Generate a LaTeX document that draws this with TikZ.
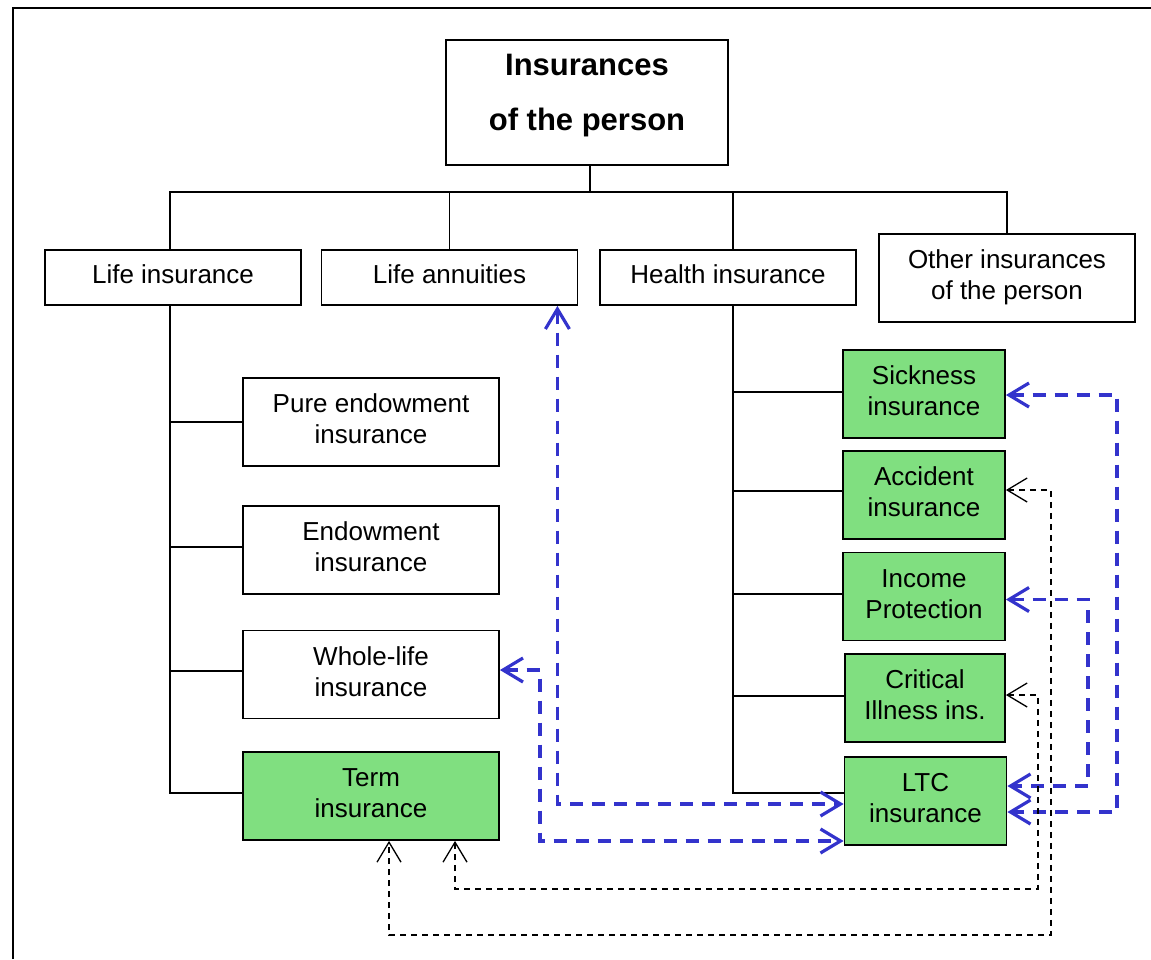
\documentclass[tikz,border=0pt]{standalone}
\usepackage{fontspec}
\setmainfont{Liberation Sans}
\usetikzlibrary{arrows.meta}
\definecolor{boxgreen}{RGB}{128,223,128}
\definecolor{linkblue}{RGB}{51,51,204}
% two lines of box text, each carrying a strut
\newcommand\boxlines[2]{\strut#1\\\strut#2}
% one line of box text, set slightly high
\newcommand\boxline[1]{\raisebox{2pt}{\strut#1}}

\begin{document}
\begin{tikzpicture}[x=1pt,y=-1pt,
  box/.style={draw=black, line width=1.8pt, inner sep=0pt, align=center,
    minimum width=256pt, minimum height=88pt, font=\fontsize{26}{31}\selectfont},
  wide/.style={box, minimum height=55pt},
  narrow/.style={box, minimum width=162pt},
  green/.style={fill=boxgreen},
  headbox/.style={box, minimum width=282pt, minimum height=125pt,
    font=\bfseries\fontsize{31}{55}\selectfont},
  tree/.style={draw=black, line width=1.3pt},
  bluelink/.style={draw=linkblue, line width=3.2pt, dash pattern=on 13pt off 9pt,
    {Straight Barb[length=20pt,width=24pt]}-{Straight Barb[length=20pt,width=24pt]}},
  blacklink/.style={draw=black, line width=1.3pt, dash pattern=on 6pt off 5pt,
    {Straight Barb[length=20pt,width=24pt]}-{Straight Barb[length=20pt,width=24pt]}}
]
\useasboundingbox (0,0) rectangle (1151,959);

% outer frame
\draw[line width=2pt] (13,959) -- (13,8) -- (1151,8);

% root and first level
\node[headbox] (top) at (587,102.5)
  {\rule{0pt}{30pt}Insurances\\of the person\rule[-29pt]{0pt}{29pt}};
\node[wide] (life)   at (173,277.5)   {\boxline{Life insurance}};
\node[wide] (annu)   at (449.5,277.5) {\boxline{Life annuities}};
\node[wide] (health) at (728,277.5)   {\boxline{Health insurance}};
\node[box]  (other)  at (1007,278)    {\boxlines{Other insurances}{of the person}};

% life insurance branch
\node[box] (pure)  at (371,422)   {\boxlines{Pure endowment}{insurance}};
\node[box] (endow) at (371,550)   {\boxlines{Endowment}{insurance}};
\node[box] (whole) at (371,674.5) {\boxlines{Whole-life}{insurance}};
\node[box,green] (term) at (371,796) {\boxlines{Term}{insurance}};

% health insurance branch
\node[narrow,green] (sick) at (924,394)   {\boxlines{Sickness}{insurance}};
\node[narrow,green] (acc)  at (924,495)   {\boxlines{Accident}{insurance}};
\node[narrow,green] (inc)  at (924,596.5) {\boxlines{Income}{Protection}};
\node[narrow,green,minimum width=160pt] (crit) at (925,698) {\boxlines{Critical}{Illness ins.}};
\node[narrow,green] (ltc)  at (925.5,801) {\boxlines{LTC}{insurance}};

% tree lines below the root
\coordinate (bus) at (590,192);
\draw[tree] ([xshift=3pt]top.south) -- ([xshift=3pt]top.south |- bus);
\draw[tree] ([xshift=-3pt]life.north) |- (other.north |- bus) -- (other.north);
\draw[tree] (annu.north) -- (annu.north |- bus);
\draw[tree] ([xshift=5pt]health.north) -- ([xshift=5pt]health.north |- bus);

% life insurance trunk
\coordinate (lt) at ([xshift=-3pt]life.south);
\draw[tree] (lt) |- ([yshift=3pt]term.west);
\draw[tree] (pure.west) -- (pure.west -| lt);
\draw[tree] ([yshift=3pt]endow.west) -- ([yshift=3pt]endow.west -| lt);
\draw[tree] ([yshift=3.5pt]whole.west) -- ([yshift=3.5pt]whole.west -| lt);

% health insurance trunk
\coordinate (ht) at ([xshift=5pt]health.south);
\draw[tree] (ht) |- ([yshift=8pt]ltc.west);
\draw[tree] ([yshift=2pt]sick.west) -- ([yshift=2pt]sick.west -| ht);
\draw[tree] ([yshift=4pt]acc.west) -- ([yshift=4pt]acc.west -| ht);
\draw[tree] ([yshift=2.5pt]inc.west) -- ([yshift=2.5pt]inc.west -| ht);
\draw[tree] ([yshift=2pt]crit.west) -- ([yshift=2pt]crit.west -| ht);

% links to long-term care
\draw[bluelink] ([xshift=-21pt]annu.south east) |- ([yshift=-3pt]ltc.west);
\draw[bluelink] ([yshift=4.5pt]whole.east) -- ++(40,0) |- ([yshift=-40pt]ltc.west);
\draw[bluelink] ([yshift=-1pt]sick.east) -- ++(111,0) |- ([yshift=-11pt]ltc.east);
\draw[bluelink] ([yshift=-3pt]inc.east) -- ++(82,0) |- ([yshift=15pt]ltc.east);

% links to term insurance
\draw[blacklink] ([yshift=5pt]acc.east) -- ++(45,0) -- ++(0,445) -| ([xshift=18pt]term.south);
\draw[blacklink] ([yshift=3pt]crit.east) -- ++(32,0) -- ++(0,194) -| ([xshift=84pt]term.south);
\end{tikzpicture}
\end{document}
